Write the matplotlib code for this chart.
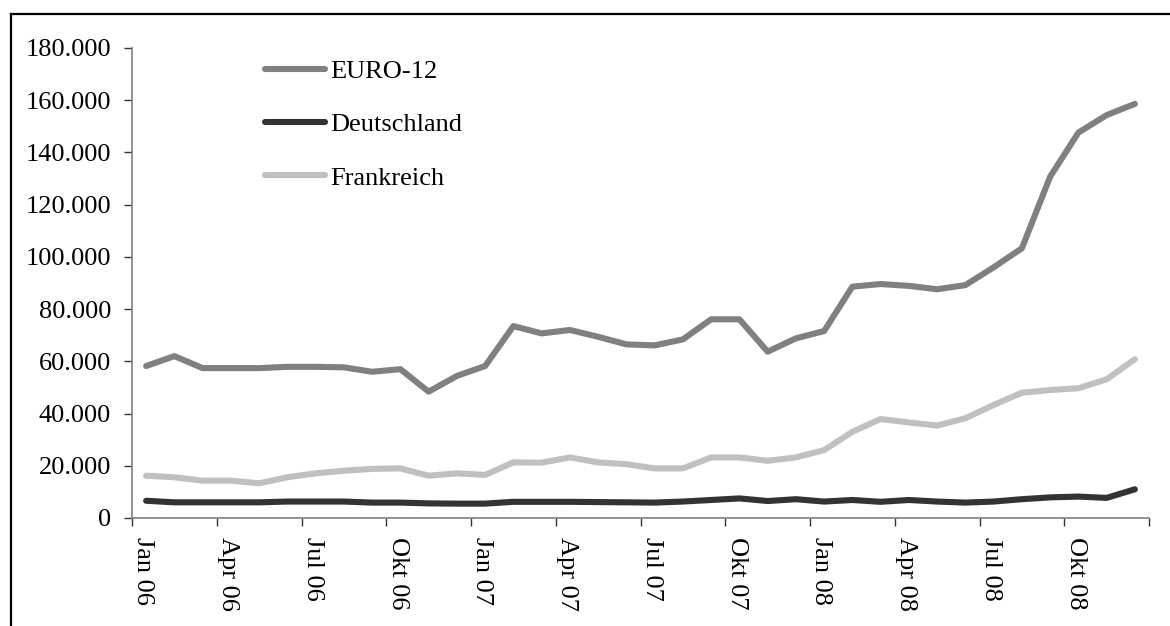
import matplotlib
matplotlib.use("Agg")
import matplotlib.pyplot as plt
from matplotlib.ticker import FuncFormatter, FixedLocator
from matplotlib.lines import Line2D

months = ["Jan", "Feb", "Mär", "Apr", "Mai", "Jun", "Jul", "Aug", "Sep", "Okt", "Nov", "Dez"]
years = ["06", "07", "08"]
categories = [f"{m} {y}" for y in years for m in months]
tick_labels = [c for i, c in enumerate(categories) if i % 3 == 0]

euro12 = [58200, 62000, 57400, 57400, 57400, 57900, 57900, 57700, 56000, 57000, 48400, 54400,
          58200, 73500, 70700, 72000, 69400, 66500, 66100, 68400, 76100, 76100, 63700, 68800,
          71600, 88600, 89600, 88900, 87600, 89200, 96000, 103300, 130700, 147600, 154300, 158600]
deutschland = [6600, 6000, 6000, 6000, 6000, 6300, 6300, 6300, 5900, 5900, 5600, 5500,
               5500, 6200, 6200, 6200, 6100, 6000, 5900, 6300, 6900, 7500, 6500, 7200,
               6300, 6900, 6200, 6900, 6300, 5900, 6300, 7200, 7900, 8200, 7700, 11000]
frankreich = [16200, 15600, 14300, 14300, 13300, 15600, 17100, 18100, 18800, 19000, 16200, 17100,
              16500, 21300, 21200, 23200, 21300, 20600, 19000, 19000, 23200, 23200, 21900, 23200,
              26000, 33000, 37900, 36600, 35400, 38200, 43300, 48000, 49000, 49700, 53100, 60800]

series = [("EURO-12", euro12, "#808080"),
          ("Deutschland", deutschland, "#333333"),
          ("Frankreich", frankreich, "#c0c0c0")]

plt.rcParams['font.family'] = ['Liberation Serif', 'DejaVu Serif']

W, H = 1170, 626
fig = plt.figure(figsize=(W / 100, H / 100), dpi=100)
ax = fig.add_axes([132/W, 1 - 518/H, (1149-132)/W, (518-48)/H])

x = list(range(len(categories)))
for name, vals, col in series:
    ax.plot(x, vals, color=col, lw=4.4, label=name, solid_capstyle='round', solid_joinstyle='round')

ax.set_xlim(-0.5, len(categories) - 0.5)
ax.set_ylim(0, 180000)
ax.set_yticks(range(0, 180001, 20000))
ax.yaxis.set_major_formatter(FuncFormatter(lambda v, p: f"{int(v):,}".replace(",", ".")))

ax.xaxis.set_major_locator(FixedLocator([i - 0.5 for i in range(0, len(categories) + 1, 3)]))
ax.xaxis.set_major_formatter(FuncFormatter(lambda v, p: ""))
ax.xaxis.set_minor_locator(FixedLocator([i - 0.1 for i in range(0, len(categories), 3)]))
ax.set_xticklabels(tick_labels, minor=True, rotation=-90, fontsize=19, va='top', ha='center')

for s in ['top', 'right']:
    ax.spines[s].set_visible(False)
for s in ['left', 'bottom']:
    ax.spines[s].set_color('#808080')
    ax.spines[s].set_linewidth(1.2)

ax.tick_params(axis='y', which='major', direction='out', length=6, width=1, color='#333333',
               labelsize=19, pad=9)
ax.tick_params(axis='x', which='major', direction='out', length=6, width=1, color='#333333')
ax.tick_params(axis='x', which='minor', length=0, pad=14, labelsize=19)

leg = ax.legend(loc='upper left', bbox_to_anchor=(265/W, 1 - 60/H),
                bbox_transform=fig.transFigure, frameon=False, fontsize=19,
                handlelength=2.27, handletextpad=0.2, labelspacing=1.12,
                borderpad=0, borderaxespad=0)

# page frame (left and top edges visible, extends beyond right/bottom)
fig.add_artist(Line2D([11/W, 11/W], [0, 1 - 14/H], transform=fig.transFigure, color='black', lw=1.6))
fig.add_artist(Line2D([11/W, 1], [1 - 14/H, 1 - 14/H], transform=fig.transFigure, color='black', lw=1.6))

fig.savefig("out.png", dpi=100)
